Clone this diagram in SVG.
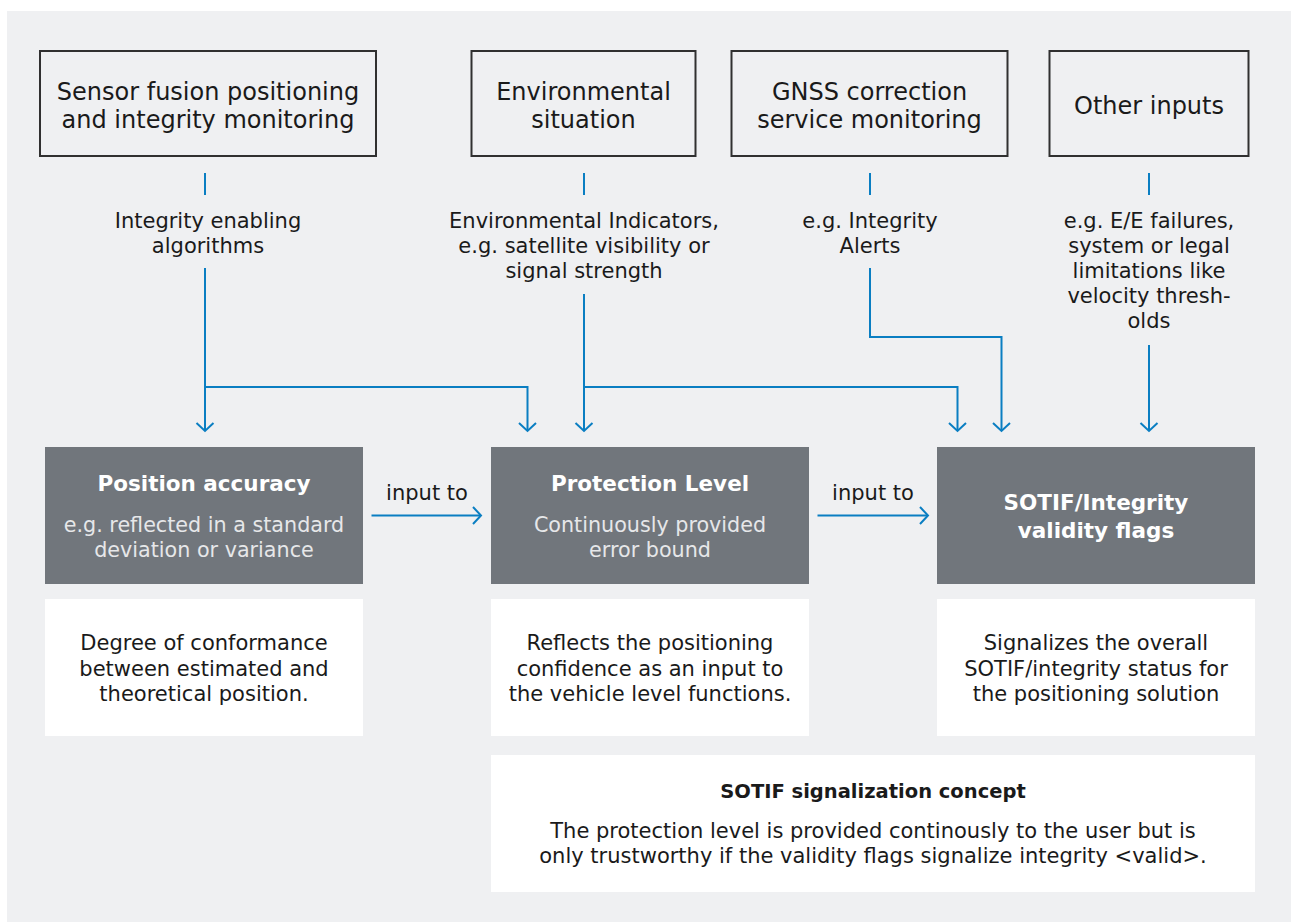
<svg xmlns="http://www.w3.org/2000/svg" width="1291" height="922" viewBox="0 0 1291 922">
<defs>
<style>
text{font-family:"DejaVu Sans","Open Sans",sans-serif;text-anchor:middle;fill:#1a1a1a}
.top{font-size:24px}
.lbl{font-size:21px}
.ttl{font-size:21.5px;font-weight:700;fill:#fff}
.sub{font-size:20.7px;fill:#e6e7e9}
.bt{font-size:19.5px;font-weight:700}
.src{fill:none;stroke:#303030;stroke-width:2}
.dark{fill:#71767c}
.white{fill:#fff}
.con{fill:none;stroke:#0a7ec2;stroke-width:2}
</style>
<marker id="ah" viewBox="-10 -10 20 20" markerWidth="20" markerHeight="20" refX="0" refY="0" orient="auto" markerUnits="userSpaceOnUse">
<path d="M-8,-8.5 L0,0 L-8,8.5" fill="none" stroke="#0a7ec2" stroke-width="2"/>
</marker>
</defs>
<rect x="7" y="11" width="1284" height="911" fill="#eff0f2"/>

<g id="sensor-fusion">
<rect class="src" x="40" y="51" width="336" height="105"/>
<text class="top" x="208" y="100">Sensor fusion positioning</text>
<text class="top" x="208" y="128">and integrity monitoring</text>
</g>
<g id="environmental-situation">
<rect class="src" x="471.5" y="51" width="224" height="105"/>
<text class="top" x="583.5" y="100">Environmental</text>
<text class="top" x="583.5" y="128">situation</text>
</g>
<g id="gnss-correction">
<rect class="src" x="731.5" y="51" width="276" height="105"/>
<text class="top" x="869.5" y="100">GNSS correction</text>
<text class="top" x="869.5" y="128">service monitoring</text>
</g>
<g id="other-inputs">
<rect class="src" x="1049.5" y="51" width="199" height="105"/>
<text class="top" x="1149" y="114">Other inputs</text>
</g>

<g id="connectors">
<line class="con" x1="205" y1="173" x2="205" y2="195"/>
<line class="con" x1="584" y1="173" x2="584" y2="195"/>
<line class="con" x1="870" y1="173" x2="870" y2="195"/>
<line class="con" x1="1149" y1="173" x2="1149" y2="195"/>
<text class="lbl" x="208" y="228">Integrity enabling</text>
<text class="lbl" x="208" y="253">algorithms</text>
<text class="lbl" x="584" y="228">Environmental Indicators,</text>
<text class="lbl" x="584" y="253">e.g. satellite visibility or</text>
<text class="lbl" x="584" y="278">signal strength</text>
<text class="lbl" x="870" y="228">e.g. Integrity</text>
<text class="lbl" x="870" y="253">Alerts</text>
<text class="lbl" x="1149" y="228">e.g. E/E failures,</text>
<text class="lbl" x="1149" y="253">system or legal</text>
<text class="lbl" x="1149" y="278">limitations like</text>
<text class="lbl" x="1149" y="303">velocity thresh-</text>
<text class="lbl" x="1149" y="328">olds</text>
<path class="con" d="M205,268 V431" marker-end="url(#ah)"/>
<path class="con" d="M205,387 H527.5 V431" marker-end="url(#ah)"/>
<path class="con" d="M584,294 V431" marker-end="url(#ah)"/>
<path class="con" d="M584,387 H957.5 V431" marker-end="url(#ah)"/>
<path class="con" d="M870,268 V337 H1001.5 V431" marker-end="url(#ah)"/>
<path class="con" d="M1149,345 V431" marker-end="url(#ah)"/>
<path class="con" d="M371.5,515.5 H481" marker-end="url(#ah)"/>
<path class="con" d="M817.5,515.5 H928" marker-end="url(#ah)"/>
<text class="lbl" x="427" y="500">input to</text>
<text class="lbl" x="873" y="500">input to</text>
</g>

<g id="position-accuracy">
<rect class="dark" x="45" y="447" width="318" height="137"/>
<text class="ttl" x="204" y="491">Position accuracy</text>
<text class="sub" x="204" y="532">e.g. reflected in a standard</text>
<text class="sub" x="204" y="557">deviation or variance</text>
</g>
<g id="protection-level">
<rect class="dark" x="491" y="447" width="318" height="137"/>
<text class="ttl" x="650" y="491">Protection Level</text>
<text class="sub" x="650" y="532">Continuously provided</text>
<text class="sub" x="650" y="557">error bound</text>
</g>
<g id="sotif-flags">
<rect class="dark" x="937" y="447" width="318" height="137"/>
<text class="ttl" x="1096" y="510">SOTIF/Integrity</text>
<text class="ttl" x="1096" y="538">validity flags</text>
</g>

<g id="position-accuracy-desc">
<rect class="white" x="45" y="599" width="318" height="137"/>
<text class="lbl" x="204" y="650">Degree of conformance</text>
<text class="lbl" x="204" y="675.5">between estimated and</text>
<text class="lbl" x="204" y="700.5">theoretical position.</text>
</g>
<g id="protection-level-desc">
<rect class="white" x="491" y="599" width="318" height="137"/>
<text class="lbl" x="650" y="650">Reflects the positioning</text>
<text class="lbl" x="650" y="675.5">confidence as an input to</text>
<text class="lbl" x="650" y="700.5">the vehicle level functions.</text>
</g>
<g id="sotif-flags-desc">
<rect class="white" x="937" y="599" width="318" height="137"/>
<text class="lbl" x="1096" y="650">Signalizes the overall</text>
<text class="lbl" x="1096" y="675.5">SOTIF/integrity status for</text>
<text class="lbl" x="1096" y="700.5">the positioning solution</text>
</g>
<g id="sotif-concept">
<rect class="white" x="491" y="755" width="764" height="137"/>
<text class="bt" x="873" y="798">SOTIF signalization concept</text>
<text class="lbl" x="873" y="838">The protection level is provided continously to the user but is</text>
<text class="lbl" x="873" y="863">only trustworthy if the validity flags signalize integrity &lt;valid&gt;.</text>
</g>
</svg>
